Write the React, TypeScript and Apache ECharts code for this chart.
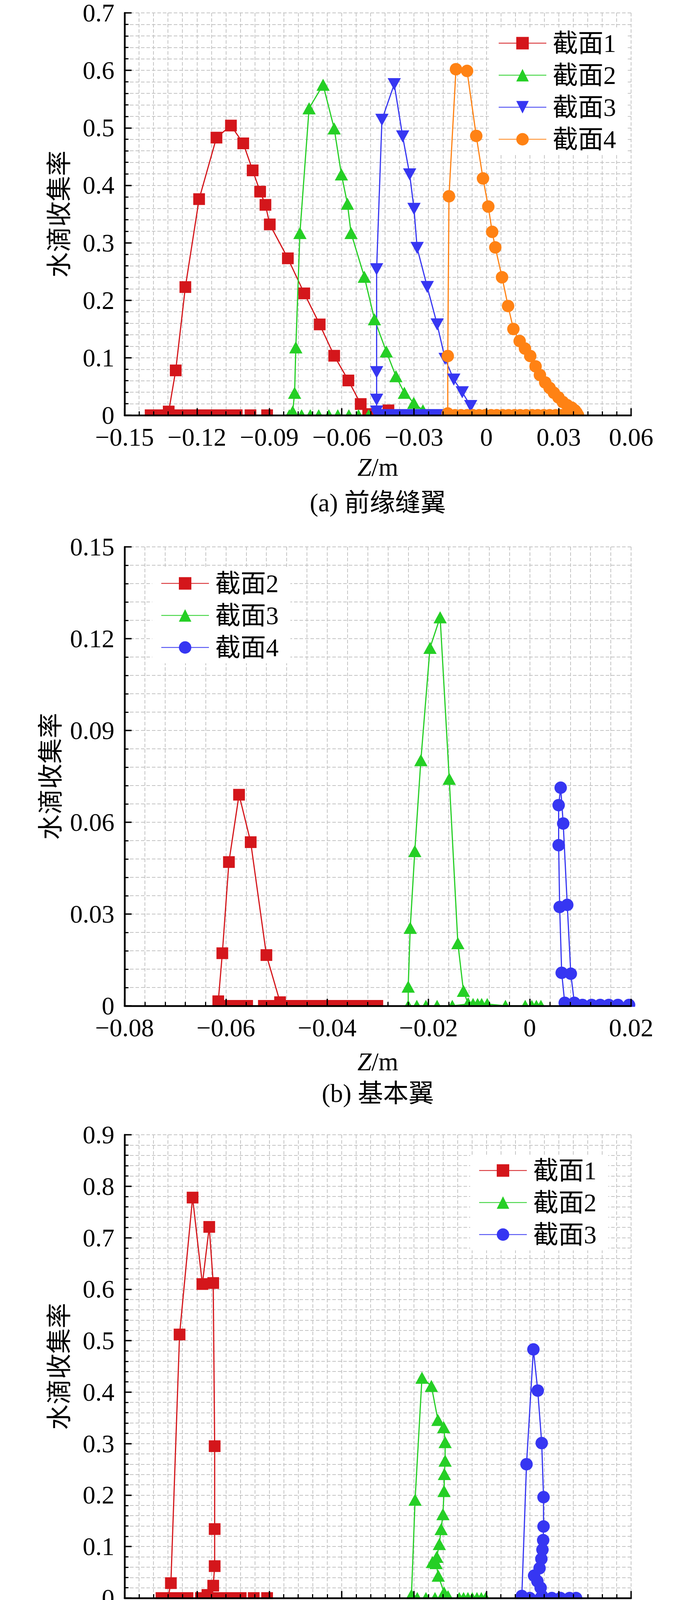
import React, { useEffect, useRef } from "react";
import * as echarts from "echarts";

type P = [number, number];

const FONT = "'Liberation Serif', 'Times New Roman', 'Noto Sans CJK SC', serif";
const RED = "#d4161b";
const GREEN = "#25cf25";
const BLUE = "#3636f2";
const ORANGE = "#ff8214";
const GRIDC = "#c4c4c4";

// ---------------- (a) 前缘缝翼 ----------------
const aXTicks = ["−0.15", "−0.12", "−0.09", "−0.06", "−0.03", "0", "0.03", "0.06"];
const aYTicks = ["0", "0.1", "0.2", "0.3", "0.4", "0.5", "0.6", "0.7"];
const aNames = ["截面1", "截面2", "截面3", "截面4"];
const a1Base: P[] = [[-0.0909, 0], [-0.0978, 0], [-0.1035, 0], [-0.1062, 0], [-0.109, 0], [-0.1118, 0], [-0.1145, 0], [-0.1172, 0], [-0.12, 0], [-0.1228, 0], [-0.1255, 0], [-0.1282, 0], [-0.131, 0], [-0.1338, 0], [-0.1365, 0], [-0.1392, 0]];
const a1Curve: P[] = [[-0.1317, 0.0065], [-0.1288, 0.078], [-0.1248, 0.223], [-0.1191, 0.376], [-0.1119, 0.483], [-0.1059, 0.504], [-0.1008, 0.473], [-0.0969, 0.426], [-0.0938, 0.389], [-0.0916, 0.366], [-0.0898, 0.332], [-0.0823, 0.273], [-0.0755, 0.212], [-0.0691, 0.158], [-0.0631, 0.1035], [-0.0572, 0.0605], [-0.0521, 0.0195], [-0.049, 0.002], [-0.0406, 0.0085]];
const a2Base: P[] = [[-0.0186, 0], [-0.0223, 0], [-0.0268, 0], [-0.0314, 0], [-0.036, 0], [-0.0406, 0], [-0.0446, 0], [-0.0488, 0], [-0.053, 0], [-0.057, 0], [-0.0616, 0], [-0.0653, 0], [-0.0695, 0], [-0.073, 0], [-0.0766, 0], [-0.0817, 0]];
const a2Curve: P[] = [[-0.0803, 0.0065], [-0.0795, 0.039], [-0.079, 0.118], [-0.0773, 0.317], [-0.0735, 0.534], [-0.0677, 0.575], [-0.0631, 0.499], [-0.0601, 0.419], [-0.0576, 0.368], [-0.0561, 0.317], [-0.0506, 0.241], [-0.0464, 0.167], [-0.0415, 0.111], [-0.0375, 0.068], [-0.034, 0.039], [-0.0301, 0.0215], [-0.0263, 0.0085]];
const a3Base: P[] = [[-0.0185, 0], [-0.0212, 0], [-0.024, 0], [-0.0268, 0], [-0.0297, 0], [-0.0325, 0], [-0.0352, 0], [-0.038, 0], [-0.0408, 0], [-0.0435, 0], [-0.0452, 0]];
const a3Curve: P[] = [[-0.0455, 0.0065], [-0.0455, 0.027], [-0.0455, 0.075], [-0.0455, 0.254], [-0.0433, 0.514], [-0.0382, 0.576], [-0.0347, 0.485], [-0.0318, 0.419], [-0.03, 0.359], [-0.0287, 0.291], [-0.0245, 0.223], [-0.0204, 0.158], [-0.0171, 0.098], [-0.0135, 0.062], [-0.01, 0.04], [-0.0065, 0.016]];
const a4Base: P[] = [[0.038, 0], [0.0358, 0], [0.0335, 0], [0.031, 0], [0.0287, 0], [0.0262, 0], [0.0238, 0], [0.0213, 0], [0.019, 0], [0.0165, 0], [0.014, 0], [0.0117, 0], [0.0092, 0], [0.0068, 0], [0.0043, 0], [0.002, 0], [-0.0005, 0], [-0.003, 0], [-0.0055, 0], [-0.008, 0], [-0.0105, 0], [-0.013, 0], [-0.0155, 0]];
const a4Curve: P[] = [[-0.016, 0.003], [-0.016, 0.103], [-0.0155, 0.381], [-0.0126, 0.602], [-0.008, 0.599], [-0.0042, 0.486], [-0.0014, 0.412], [0.0008, 0.363], [0.0024, 0.319], [0.0037, 0.292], [0.0065, 0.24], [0.009, 0.19], [0.0112, 0.15], [0.0138, 0.129], [0.016, 0.116], [0.0182, 0.103], [0.0204, 0.085], [0.0222, 0.07], [0.0244, 0.057], [0.0262, 0.0475], [0.028, 0.039], [0.0299, 0.031], [0.0317, 0.023], [0.0335, 0.0175], [0.0354, 0.013], [0.0367, 0.0085], [0.0374, 0.0045]];

// ---------------- (b) 基本翼 ----------------
const bXTicks = ["−0.08", "−0.06", "−0.04", "−0.02", "0", "0.02"];
const bYTicks = ["0", "0.03", "0.06", "0.09", "0.12", "0.15"];
const bNames = ["截面2", "截面3", "截面4"];
const b1Base: P[] = [[-0.0301, 0], [-0.0323, 0], [-0.0344, 0], [-0.0362, 0], [-0.0384, 0], [-0.0405, 0], [-0.0427, 0], [-0.0445, 0], [-0.0467, 0], [-0.0488, 0], [-0.051, 0], [-0.0525, 0], [-0.0558, 0], [-0.0571, 0], [-0.0584, 0], [-0.0597, 0], [-0.0612, 0]];
const b1Curve: P[] = [[-0.0615, 0.0015], [-0.0607, 0.0172], [-0.0594, 0.047], [-0.0574, 0.069], [-0.0551, 0.0535], [-0.052, 0.0166], [-0.0493, 0.0012]];
const b2Base: P[] = [[0.0022, 0], [0.0013, 0], [0.0004, 0], [-0.0009, 0], [-0.0048, 0], [-0.0084, 0.0006], [-0.0095, 0.0006], [-0.0103, 0.0006], [-0.0112, 0.0006], [-0.0121, 0.0006], [-0.0153, 0], [-0.0183, 0], [-0.0205, 0], [-0.0223, 0], [-0.024, 0]];
const b2Curve: P[] = [[-0.024, 0.0063], [-0.0236, 0.0255], [-0.0227, 0.0506], [-0.0215, 0.0803], [-0.0197, 0.117], [-0.0177, 0.127], [-0.0159, 0.0742], [-0.0142, 0.0205], [-0.0131, 0.0049], [-0.0122, 0.0008]];
const b3Base: P[] = [[0.0196, 0.0003], [0.0174, 0.0003], [0.0156, 0.0003], [0.0139, 0.0003], [0.0122, 0.0003], [0.0104, 0.0003], [0.0088, 0.0005]];
const b3Curve: P[] = [[0.0069, 0.001], [0.0063, 0.0108], [0.0059, 0.0323], [0.0057, 0.0525], [0.0057, 0.0656], [0.0061, 0.0713], [0.0066, 0.0596], [0.0074, 0.033], [0.0081, 0.0105], [0.0088, 0.001]];

// ---------------- (c) 第1段襟翼 ----------------
const cXTicks = ["−0.10", "−0.08", "−0.06", "−0.04", "−0.02", "0", "0.02", "0.04"];
const cYTicks = ["0", "0.1", "0.2", "0.3", "0.4", "0.5", "0.6", "0.7", "0.8", "0.9"];
const cNames = ["截面1", "截面2", "截面3"];
const c1Base: P[] = [[-0.0606, 0], [-0.0643, 0], [-0.0679, 0], [-0.071, 0], [-0.0728, 0], [-0.0746, 0], [-0.0771, 0], [-0.0789, 0], [-0.0826, 0], [-0.0844, 0], [-0.0862, 0], [-0.0898, 0], [-0.088, 0]];
const c1Curve: P[] = [[-0.0872, 0.029], [-0.0848, 0.512], [-0.0812, 0.778], [-0.0785, 0.61], [-0.0766, 0.721], [-0.0755, 0.612], [-0.0751, 0.295], [-0.0751, 0.134], [-0.0751, 0.062], [-0.0755, 0.024], [-0.0771, 0.006]];
const c2Base: P[] = [[-0.0002, 0], [-0.0014, 0], [-0.0026, 0], [-0.0039, 0], [-0.0051, 0], [-0.0063, 0], [-0.0075, 0], [-0.0124, 0], [-0.0142, 0], [-0.0167, 0], [-0.0191, 0], [-0.0209, 0]];
const c2Curve: P[] = [[-0.0207, 0.006], [-0.0197, 0.191], [-0.0178, 0.428], [-0.0152, 0.412], [-0.0134, 0.346], [-0.0118, 0.332], [-0.0114, 0.303], [-0.0114, 0.267], [-0.0116, 0.241], [-0.0117, 0.208], [-0.012, 0.163], [-0.0125, 0.134], [-0.013, 0.105], [-0.0137, 0.08], [-0.0149, 0.07], [-0.0139, 0.068], [-0.0133, 0.0435], [-0.0117, 0.011], [-0.0106, 0.0036]];
const c3Base: P[] = [[0.0248, 0], [0.023, 0], [0.0205, 0], [0.0181, 0], [0.015, 0], [0.012, 0], [0.0096, 0]];
const c3Curve: P[] = [[0.0098, 0.004], [0.0111, 0.26], [0.013, 0.483], [0.0142, 0.403], [0.0153, 0.301], [0.0158, 0.196], [0.0158, 0.139], [0.0157, 0.1125], [0.0155, 0.094], [0.0152, 0.076], [0.0147, 0.058], [0.0132, 0.0435], [0.0141, 0.0327], [0.015, 0.02], [0.0154, 0.004]];

// ---------------- (d) 第2段襟翼 ----------------
const dXTicks = ["−0.30", "−0.25", "−0.20", "−0.15", "−0.10", "−0.05", "0", "0.05"];
const dYTicks = ["0", "0.1", "0.2", "0.3", "0.4", "0.5", "0.6", "0.7"];
const dNames = ["截面1", "截面2", "截面3"];
const d1Base: P[] = [[-0.1039, 0], [-0.11, 0], [-0.1176, 0], [-0.1268, 0], [-0.1374, 0], [-0.1481, 0], [-0.1603, 0], [-0.1725, 0], [-0.1847, 0], [-0.1975, 0], [-0.2167, 0], [-0.2274, 0], [-0.2366, 0], [-0.2472, 0], [-0.2543, 0], [-0.2604, 0], [-0.2665, 0], [-0.2726, 0], [-0.2762, 0]];
const d1Curve: P[] = [[-0.2762, 0.08], [-0.2729, 0.152], [-0.2668, 0.1375], [-0.2567, 0.123], [-0.2503, 0.12], [-0.243, 0.115], [-0.2256, 0.106], [-0.21, 0.096], [-0.1987, 0.095], [-0.192, 0.092], [-0.1862, 0.088], [-0.1798, 0.0905], [-0.1734, 0.093], [-0.1664, 0.096], [-0.1594, 0.1035], [-0.1521, 0.117], [-0.146, 0.133], [-0.1435, 0.1425], [-0.1402, 0.161], [-0.138, 0.179], [-0.1365, 0.192], [-0.135, 0.2065], [-0.1338, 0.221], [-0.1322, 0.228], [-0.1286, 0.26], [-0.1262, 0.2875], [-0.1231, 0.32], [-0.1197, 0.3605], [-0.1179, 0.4], [-0.1167, 0.463], [-0.1158, 0.543], [-0.1143, 0.597], [-0.1121, 0.5845], [-0.11, 0.526], [-0.1085, 0.433], [-0.1069, 0.29], [-0.1048, 0.122], [-0.1036, 0.017]];
const d2Base: P[] = [[-0.0307, 0], [-0.0383, 0], [-0.0475, 0], [-0.0566, 0], [-0.0658, 0], [-0.0749, 0], [-0.0841, 0], [-0.0917, 0], [-0.1008, 0], [-0.11, 0], [-0.1191, 0], [-0.1298, 0], [-0.139, 0], [-0.1496, 0], [-0.1588, 0], [-0.1679, 0], [-0.1756, 0], [-0.1786, 0]];
const d2Curve: P[] = [[-0.1786, 0.119], [-0.1768, 0.2365], [-0.1725, 0.235], [-0.1643, 0.229], [-0.1542, 0.169], [-0.1426, 0.084], [-0.1322, 0.054], [-0.1243, 0.047], [-0.1176, 0.042], [-0.1069, 0.037], [-0.0993, 0.044], [-0.0926, 0.0525], [-0.0856, 0.061], [-0.0795, 0.076], [-0.0734, 0.088], [-0.0673, 0.112], [-0.0652, 0.1245], [-0.0634, 0.1385], [-0.0622, 0.15], [-0.0612, 0.158], [-0.0597, 0.1725], [-0.0573, 0.192], [-0.0536, 0.222], [-0.0512, 0.2615], [-0.0485, 0.301], [-0.046, 0.362], [-0.0454, 0.412], [-0.0442, 0.449], [-0.0424, 0.4855], [-0.0412, 0.463], [-0.0399, 0.4], [-0.0381, 0.349], [-0.0363, 0.28], [-0.0354, 0.163], [-0.0344, 0.051], [-0.0323, 0.006]];
const d3Base: P[] = [[0.0105, 0], [0.0059, 0], [0.0013, 0], [-0.0063, 0], [-0.0124, 0], [-0.0185, 0], [-0.0261, 0], [-0.0338, 0], [-0.0429, 0], [-0.0505, 0], [-0.0581, 0], [-0.0688, 0], [-0.0795, 0], [-0.0902, 0], [-0.0993, 0], [-0.1054, 0], [-0.1115, 0], [-0.1127, 0]];
const d3Curve: P[] = [[-0.1127, 0.123], [-0.1109, 0.248], [-0.1069, 0.2405], [-0.1024, 0.233], [-0.0948, 0.225], [-0.0856, 0.168], [-0.0774, 0.106], [-0.0719, 0.095], [-0.0673, 0.089], [-0.0627, 0.084], [-0.0573, 0.081], [-0.0512, 0.081], [-0.0451, 0.082], [-0.0399, 0.0905], [-0.0338, 0.1], [-0.0298, 0.119], [-0.0261, 0.1415], [-0.024, 0.158], [-0.0215, 0.1935], [-0.02, 0.204], [-0.0185, 0.218], [-0.017, 0.229], [-0.0155, 0.2575], [-0.0133, 0.291], [-0.0109, 0.3265], [-0.0091, 0.351], [-0.0078, 0.378], [-0.0069, 0.457], [-0.0063, 0.502], [-0.0057, 0.519], [-0.0026, 0.502], [-0.0038, 0.481], [-0.0014, 0.423], [-0.0005, 0.276], [0.0007, 0.168], [0.0013, 0.058], [0.0029, 0.0045]];

// ---------------- (e) 平尾 ----------------
const eXTicks = ["1.60", "1.62", "1.64", "1.66", "1.68", "1.70", "1.72"];
const eYTicks = ["0", "0.1", "0.2", "0.3", "0.4", "0.5", "0.6", "0.7", "0.8"];
const eNames = ["截面5", "截面6", "截面7"];
const e1Base: P[] = [[1.6259, 0], [1.6243, 0], [1.6228, 0], [1.6212, 0], [1.6184, 0], [1.6168, 0], [1.6153, 0], [1.6137, 0], [1.6121, 0], [1.6106, 0], [1.609, 0]];
const e1Curve: P[] = [[1.619, 0.002], [1.6196, 0.008], [1.6201, 0.0194], [1.6209, 0.063], [1.6213, 0.126], [1.6218, 0.212], [1.6223, 0.297], [1.6231, 0.376], [1.6237, 0.4565], [1.6247, 0.541], [1.6255, 0.6185], [1.6264, 0.6495], [1.6273, 0.68], [1.6282, 0.667], [1.6291, 0.623], [1.6296, 0.615], [1.6302, 0.587], [1.6306, 0.52], [1.631, 0.4235], [1.6314, 0.353], [1.6322, 0.3335], [1.6329, 0.3045], [1.6338, 0.2655], [1.6346, 0.2415], [1.6355, 0.202], [1.6367, 0.154], [1.6378, 0.1145], [1.6388, 0.084], [1.6398, 0.055], [1.641, 0.026], [1.642, 0.003]];
const e2Base: P[] = [[1.6766, 0], [1.6735, 0], [1.6714, 0], [1.6688, 0], [1.6651, 0], [1.6614, 0], [1.6573, 0], [1.6531, 0], [1.6489, 0], [1.6408, 0], [1.639, 0], [1.6369, 0], [1.635, 0], [1.6332, 0], [1.6311, 0], [1.6291, 0], [1.627, 0]];
const e2Curve: P[] = [[1.6405, 0.002], [1.6419, 0.013], [1.644, 0.084], [1.6461, 0.259], [1.6474, 0.312], [1.6491, 0.423], [1.6508, 0.536], [1.6527, 0.604], [1.6543, 0.661], [1.656, 0.67], [1.6576, 0.589], [1.6589, 0.559], [1.6603, 0.5355], [1.6614, 0.487], [1.6627, 0.486], [1.6635, 0.422], [1.6643, 0.355], [1.665, 0.319], [1.666, 0.304], [1.6673, 0.277], [1.6681, 0.214], [1.67, 0.181], [1.6712, 0.152], [1.6727, 0.098], [1.6743, 0.056], [1.6758, 0.027], [1.6771, 0.012]];
const e3Base: P[] = [[1.7168, 0], [1.7147, 0], [1.7127, 0], [1.7069, 0], [1.7006, 0], [1.6944, 0], [1.6876, 0], [1.6832, 0], [1.6813, 0], [1.6792, 0], [1.6771, 0], [1.675, 0], [1.6719, 0], [1.6688, 0], [1.6651, 0], [1.6625, 0], [1.6604, 0], [1.6578, 0], [1.6554, 0], [1.6531, 0], [1.651, 0], [1.6489, 0], [1.6468, 0], [1.6447, 0], [1.6426, 0]];
const e3Curve: P[] = [[1.663, 0.001], [1.6649, 0.024], [1.6669, 0.108], [1.6687, 0.193], [1.6706, 0.256], [1.6728, 0.3775], [1.675, 0.489], [1.6776, 0.5155], [1.6805, 0.536], [1.6832, 0.5815], [1.6859, 0.6035], [1.6882, 0.559], [1.6904, 0.52], [1.6922, 0.465], [1.6939, 0.406], [1.6953, 0.3865], [1.6968, 0.3225], [1.6979, 0.3055], [1.6991, 0.309], [1.7004, 0.2475], [1.702, 0.181], [1.7037, 0.144], [1.7053, 0.102], [1.7072, 0.065], [1.7093, 0.029], [1.7112, 0.0045]];

const SQUARE = { symbol: "rect", size: 30 as any };
const TRI = { symbol: "triangle", size: [34, 31] as any };
const TRI_DOWN = { symbol: "path://M0,0L2,0L1,1.8Z", size: [34, 31] as any };
const CIRCLE = { symbol: "circle", size: 32 as any };

type SeriesDef = { name: string; data: P[]; color: string; mark: { symbol: string; size: any } };
type PanelDef = {
  top: number; height: number;
  xMin: number; xMax: number; xInt: number; xTicks: string[];
  yMax: number; yInt: number; yTicks: string[];
  series: SeriesDef[];
  legendLeft: number; legendTop: number;
  caption: string; captionY: number;
  xNameGap: number; yNameGap: number;
};

const panels: PanelDef[] = [
  {
    top: 33, height: 1030, xMin: -0.15, xMax: 0.06, xInt: 0.03, xTicks: aXTicks, yMax: 0.7, yInt: 0.1, yTicks: aYTicks,
    series: [
      { name: aNames[0], data: [...a1Base, ...a1Curve], color: RED, mark: SQUARE },
      { name: aNames[1], data: [...a2Base, ...a2Curve], color: GREEN, mark: TRI },
      { name: aNames[2], data: [...a3Base, ...a3Curve], color: BLUE, mark: TRI_DOWN },
      { name: aNames[3], data: [...a4Base, ...a4Curve], color: ORANGE, mark: CIRCLE },
    ],
    legendLeft: 1254, legendTop: 70, caption: "(a) 前缘缝翼", captionY: 1287, xNameGap: 100, yNameGap: 135,
  },
  {
    top: 1400, height: 1175, xMin: -0.08, xMax: 0.02, xInt: 0.02, xTicks: bXTicks, yMax: 0.15, yInt: 0.03, yTicks: bYTicks,
    series: [
      { name: bNames[0], data: [...b1Base, ...b1Curve], color: RED, mark: SQUARE },
      { name: bNames[1], data: [...b2Base, ...b2Curve], color: GREEN, mark: TRI },
      { name: bNames[2], data: [...b3Base, ...b3Curve], color: BLUE, mark: CIRCLE },
    ],
    legendLeft: 390, legendTop: 1453, caption: "(b) 基本翼", captionY: 2799, xNameGap: 110, yNameGap: 157,
  },
  {
    top: 2905, height: 1186, xMin: -0.1, xMax: 0.04, xInt: 0.02, xTicks: cXTicks, yMax: 0.9, yInt: 0.1, yTicks: cYTicks,
    series: [
      { name: cNames[0], data: [...c1Base, ...c1Curve], color: RED, mark: SQUARE },
      { name: cNames[1], data: [...c2Base, ...c2Curve], color: GREEN, mark: TRI },
      { name: cNames[2], data: [...c3Base, ...c3Curve], color: BLUE, mark: CIRCLE },
    ],
    legendLeft: 1204, legendTop: 2956, caption: "(c) 第1段襟翼", captionY: 4307, xNameGap: 101, yNameGap: 135,
  },
  {
    top: 4415, height: 1184, xMin: -0.3, xMax: 0.05, xInt: 0.05, xTicks: dXTicks, yMax: 0.7, yInt: 0.1, yTicks: dYTicks,
    series: [
      { name: dNames[0], data: [...d1Base, ...d1Curve], color: RED, mark: SQUARE },
      { name: dNames[1], data: [...d2Base, ...d2Curve], color: GREEN, mark: TRI },
      { name: dNames[2], data: [...d3Base, ...d3Curve], color: BLUE, mark: CIRCLE },
    ],
    legendLeft: 390, legendTop: 4463, caption: "(d) 第2段襟翼", captionY: 5805, xNameGap: 97, yNameGap: 135,
  },
  {
    top: 5915, height: 1181, xMin: 1.6, xMax: 1.72, xInt: 0.02, xTicks: eXTicks, yMax: 0.8, yInt: 0.1, yTicks: eYTicks,
    series: [
      { name: eNames[0], data: [...e1Base, ...e1Curve], color: RED, mark: SQUARE },
      { name: eNames[1], data: [...e2Base, ...e2Curve], color: GREEN, mark: TRI },
      { name: eNames[2], data: [...e3Base, ...e3Curve], color: BLUE, mark: CIRCLE },
    ],
    legendLeft: 1249, legendTop: 5927, caption: "(e) 平尾", captionY: 7317, xNameGap: 106, yNameGap: 135,
  },
];

const GRID_LEFT = 319;
const GRID_WIDTH = 1297;
const FS = 65;

function buildOption() {
  const grid: any[] = [];
  const xAxis: any[] = [];
  const yAxis: any[] = [];
  const series: any[] = [];
  const legend: any[] = [];
  const graphic: any[] = [];
  const dashed = { color: GRIDC, width: 2, type: [9, 5] };
  const txt = { fontSize: FS, fontFamily: FONT, color: "#000" };

  panels.forEach((p, i) => {
    grid.push({ left: GRID_LEFT, top: p.top, width: GRID_WIDTH, height: p.height, containLabel: false, outerBoundsMode: "none" });
    xAxis.push({
      type: "value", gridIndex: i, position: "bottom", min: p.xMin, max: p.xMax, interval: p.xInt, z: 0,
      axisLine: { show: false }, axisTick: { show: false }, axisLabel: { show: false },
      minorTick: { show: false, splitNumber: 5 },
      splitLine: { show: true, lineStyle: dashed }, minorSplitLine: { show: true, lineStyle: dashed },
    });
    yAxis.push({
      type: "value", gridIndex: i, position: "left", min: 0, max: p.yMax, interval: p.yInt, z: 0,
      axisLine: { show: false }, axisTick: { show: false }, axisLabel: { show: false },
      minorTick: { show: false, splitNumber: 5 },
      splitLine: { show: true, lineStyle: dashed }, minorSplitLine: { show: true, lineStyle: dashed },
    });
    xAxis.push({
      type: "value", gridIndex: i, position: "bottom", min: p.xMin, max: p.xMax, interval: p.xInt, z: 10,
      axisLine: { show: true, onZero: false, lineStyle: { color: "#000", width: 4.5 } },
      axisTick: { show: true, inside: true, length: 18, lineStyle: { color: "#000", width: 3.5 } },
      minorTick: { show: true, splitNumber: 5, length: 10, lineStyle: { color: "#000", width: 3 } },
      splitLine: { show: false }, minorSplitLine: { show: false },
      axisLabel: {
        ...txt, margin: 30, lineHeight: 52, hideOverlap: false, showMinLabel: true, showMaxLabel: true,
        formatter: (v: number) => p.xTicks[Math.round((v - p.xMin) / p.xInt)] ?? "",
      },
      name: "{it|Z}/m", nameLocation: "middle", nameGap: p.xNameGap, nameMoveOverlap: false,
      nameTextStyle: { ...txt, rich: { it: { ...txt, fontStyle: "italic" } } },
    });
    yAxis.push({
      type: "value", gridIndex: i, position: "left", min: 0, max: p.yMax, interval: p.yInt, z: 10,
      axisLine: { show: true, onZero: false, lineStyle: { color: "#000", width: 4.5 } },
      axisTick: { show: true, inside: true, length: 18, lineStyle: { color: "#000", width: 3.5 } },
      minorTick: { show: true, splitNumber: 5, length: 10, lineStyle: { color: "#000", width: 3 } },
      splitLine: { show: false }, minorSplitLine: { show: false },
      axisLabel: {
        ...txt, margin: 26, lineHeight: 52, hideOverlap: false, showMinLabel: true, showMaxLabel: true,
        formatter: (v: number) => p.yTicks[Math.round(v / p.yInt)] ?? "",
      },
      name: "水滴收集率", nameLocation: "middle", nameGap: p.yNameGap, nameRotate: 90, nameMoveOverlap: false,
      nameTextStyle: { ...txt },
    });

    const names: string[] = [];
    p.series.forEach((s) => {
      const nm = `${i}|${s.name}`;
      names.push(nm);
      series.push({
        type: "line", name: nm, xAxisIndex: 2 * i, yAxisIndex: 2 * i, data: s.data,
        symbol: s.mark.symbol, symbolSize: s.mark.size, showSymbol: true,
        lineStyle: { color: s.color, width: 3 }, itemStyle: { color: s.color },
        z: 2, animation: false, clip: true,
      });
    });

    legend.push({
      data: names, orient: "vertical", left: p.legendLeft, top: p.legendTop,
      itemWidth: 122, itemHeight: 40, itemGap: 17, align: "left",
      backgroundColor: "#fff", padding: [8, 30, 8, 22], selectedMode: false, z: 6,
      textStyle: { ...txt, lineHeight: 64, padding: [0, 0, 0, 11] },
      formatter: (n: string) => n.split("|")[1],
    });

    const bottom = p.top + p.height;
    graphic.push({
      type: "rect", silent: true, z: 5,
      shape: { x: 290, y: bottom + 2.5, width: 1360, height: 19 },
      style: { fill: "#fff" },
    });
    graphic.push({
      type: "text", silent: true, z: 5, x: GRID_LEFT + GRID_WIDTH / 2, y: p.captionY,
      style: { text: p.caption, fontSize: FS, fontFamily: FONT, fill: "#000", align: "center", verticalAlign: "middle" },
    });
  });

  return {
    animation: false,
    backgroundColor: "#fff",
    grid, xAxis, yAxis, series, legend,
    graphic: { elements: graphic },
  };
}

export default function App() {
  const ref = useRef<HTMLDivElement>(null);
  useEffect(() => {
    if (!ref.current) return;
    const chart = echarts.init(ref.current, undefined, { renderer: "svg" });
    chart.setOption(buildOption() as any);
    return () => chart.dispose();
  }, []);
  return (
    <div
      ref={ref}
      style={{ position: "absolute", left: 0, top: 0, width: 1772, height: 7362, background: "#fff" }}
    />
  );
}
